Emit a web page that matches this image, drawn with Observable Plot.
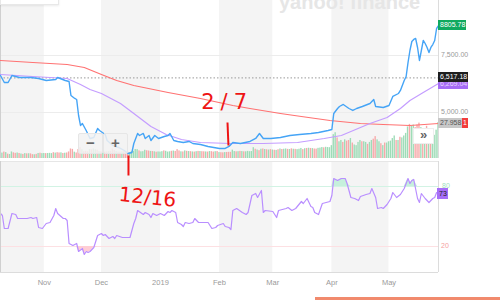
<!DOCTYPE html>
<html><head><meta charset="utf-8">
<script src="https://cdn.jsdelivr.net/npm/d3@7"></script>
<script src="https://cdn.jsdelivr.net/npm/@observablehq/plot@0.6"></script>
<style>
body{margin:0;background:#fff;font-family:"Liberation Sans",Arial,sans-serif;}
#wrap{position:relative;width:500px;height:300px;overflow:hidden;background:#fff;}
.layer{position:absolute;left:0;}
.tag{position:absolute;font-size:7px;line-height:10px;height:10px;white-space:nowrap;padding:0 2px;box-sizing:border-box;}
.btn{position:absolute;box-sizing:border-box;text-align:center;color:#666;font-weight:bold;}
</style></head><body><div id="wrap"></div>
<script>
// ---------- DATA (day = days since 2018-10-09) ----------
const startDate = "2018-10-09";
const endDay = 230;                    // 2019-05-27
const bandStart = ["2018-10-09","2018-12-01","2019-02-01","2019-04-01"];
const bandEnd   = ["2018-11-01","2019-01-01","2019-03-01","2019-05-01"];
const tickDates = ["2018-11-01","2018-12-01","2019-01-01","2019-02-01","2019-03-01","2019-04-01","2019-05-01"];
const tickLabels = ["Nov","Dec","2019","Feb","Mar","Apr","May"];
const priceTicks = [5000, 7500];
const priceTickLabels = ["5,000.00", "7,500.00"];
const lastClose = 6517.18;
const lastPrice = 8805.78;
const lastSma50 = 6269.04;
const lastVolume = "27.958";
const rsiLevels = [20, 80];
const lastRsi = 73;

// price [day, close]
const price = [[0,6623],[2,6316],[4,6316],[6,6623],[10,6535],[16,6535],[20,6491],[24,6404],[29,6447],[30,6535],
[34,6404],[36,6360],[37,5746],[39,5614],[40,5570],[41,4868],[42,4430],[43,4517],[45,4210],[47,3860],
[49,3904],[51,4298],[52,4210],[55,4035],[56,3772],[59,3553],[62,3465],[65,3333],[67,3202],[69,3245],
[70,3640],[72,4079],[73,3991],[75,4079],[76,3860],[78,3991],[79,3772],[81,3991],[83,3860],[86,3947],
[88,3991],[89,4079],[91,3772],[93,3728],[96,3684],[99,3728],[101,3640],[105,3597],[109,3509],[112,3465],
[115,3421],[118,3421],[120,3509],[122,3684],[126,3640],[131,3728],[134,3860],[136,4079],[138,3860],[142,3860],
[147,3904],[152,3991],[157,4035],[163,4079],[167,4123],[172,4210],[174,4254],[175,4956],[177,5175],[178,5263],
[180,5351],[183,5175],[185,5088],[187,5175],[190,5263],[194,5395],[196,5570],[197,5263],[201,5219],[204,5307],
[206,5702],[209,5833],[210,5965],[211,6184],[212,6404],[213,6579],[214,7193],[215,7719],[216,8114],[217,8202],
[218,8246],[219,7851],[220,7281],[221,7719],[222,8158],[223,8026],[224,7851],[225,7632],[226,7851],[227,7982],
[228,8158],[229,8684],[230,8805.78]];

// 50-day moving average [day, value]
const sma50 = [[0,6667],[17,6579],[35,6491],[42,6228],[47,6009],[53,5833],[58,5614],[63,5395],[70,4956],[79,4386],
[87,4035],[95,3816],[105,3684],[121,3640],[138,3640],[156,3684],[170,3860],[179,3991],[189,4342],[194,4518],
[203,4781],[210,5175],[215,5526],[222,5877],[230,6269.04]];

// 200-day moving average [day, value]
const sma200 = [[0,7281],[17,7193],[35,7105],[44,6974],[53,6667],[61,6404],[70,6184],[88,5877],[105,5614],[122,5307],
[131,5175],[147,4956],[158,4825],[173,4649],[189,4518],[201,4474],[215,4430],[230,4518]];

// daily volume in billions (negative = down day)
const volOct = [-3.8,4.2,-5.0,4.6,-3.4,3.1,5.1,-4.4,-4.0,4.3,-3.9,3.5,-3.2,3.8,-3.6,3.7,-3.6,-3.0,2.9,-3.2,3.9,-4.1,3.8];
const volNov = [3.9,-3.8,3.9,4.0,3.8,-4.5,4.2,-4.5,-4.3,4.4,-3.9,4.1,-4.3,-5.1,-7.4,-7.1,4.9,-4.3,-7.0,-8.4,6.9,-5.3,-5.6,-5.2,7.0,-6.7,7.4,6.8,-6.5,5.3];
const volDec = [-5.2,5.0,-5.0,-5.1,5.3,-5.6,-7.3,-6.2,5.4,-5.0,-4.9,5.1,-5.3,-4.9,-4.8,4.5,5.3,5.6,7.0,6.9,-5.9,5.2,5.3,6.4,-6.0,-5.8,5.5,-5.4,5.2,-4.9,5.1];
const volJan = [5.0,5.3,-5.9,5.6,5.0,5.2,-5.6,5.8,-5.5,-6.9,-5.9,5.2,-5.1,5.9,-5.6,5.4,-5.3,5.1,-5.0,5.3,-5.5,5.4,-5.3,-5.2,5.1,-5.0,5.4,-5.3,-5.0,5.3,-5.4];
const volFeb = [4.6,-4.5,-4.4,4.6,-4.7,-4.8,-4.8,6.5,5.4,-5.2,5.3,-5.5,5.4,-5.2,5.2,5.5,5.3,5.4,8.4,-7.2,6.6,-6.1,7.2,-7.4,7.0,-6.8,6.6,-6.9];
const volMar = [6.6,-6.4,6.3,-6.8,7.4,-7.0,7.2,7.4,-7.1,7.0,-7.5,7.2,-7.1,6.9,7.2,7.8,-6.9,7.6,-7.8,8.0,-7.8,7.7,-7.4,-7.3,7.9,8.1,8.5,-8.3,8.7,8.5,8.4];
const volApr = [10.0,18.5,20.0,-16.0,13.0,14.0,-12.5,14.5,-13.5,-14.0,15.5,-12.0,10.5,10.0,12.5,14.0,-13.0,13.0,12.5,-11.0,12.5,14.0,-15.0,-17.0,14.5,13.0,-11.5,10.0,-12.0,12.0];
const volMay = [13.0,13.5,15.5,17.5,-14.0,14.0,-16.5,16.0,17.5,19.5,24.5,-26.5,25.0,26.0,-24.0,-26.0,-27.5,24.0,-18.0,22.0,-25.0,23.0,-21.0,20.0,18.0,22.0,27.958];

// RSI [day, value]
const rsi = [[0,53],[1,51],[2,38],[4,38],[6,53],[8,52],[9,48],[14,48],[16,49],[17,48],
[19,49],[20,39],[22,38],[24,43],[26,44],[28,51],[29,58],[30,53],[33,48],[34,48],
[35,46],[36,23],[38,21],[40,23],[41,15],[43,18],[44,12],[45,15],[46,14],[47,15],
[49,19],[51,31],[53,33],[54,31],[55,32],[57,28],[59,30],[60,28],[61,31],[64,29],
[67,29],[68,29],[70,43],[71,48],[72,56],[75,52],[76,54],[78,52],[79,49],[80,53],
[82,51],[84,53],[86,51],[88,55],[89,54],[90,56],[92,54],[93,44],[95,42],[96,40],
[97,44],[99,43],[101,44],[102,48],[104,44],[107,44],[109,44],[111,38],[113,39],[114,41],
[117,43],[118,40],[120,39],[121,37],[122,56],[124,58],[127,54],[129,52],[130,54],[132,71],
[134,73],[135,69],[137,76],[138,54],[139,56],[143,55],[145,49],[146,56],[150,58],[151,59],
[153,56],[155,58],[158,65],[159,63],[161,68],[163,60],[164,59],[165,54],[167,52],[169,63],
[171,64],[173,65],[174,71],[175,88],[177,86],[179,88],[180,88],[181,88],[182,83],[184,69],
[186,68],[188,66],[189,70],[192,72],[194,73],[195,78],[197,69],[198,58],[200,59],[201,58],
[203,62],[205,68],[206,74],[208,69],[210,72],[212,78],[214,88],[215,83],[216,86],[217,87],
[219,68],[220,64],[221,73],[223,68],[225,64],[227,68],[228,69],[229,74],[230,73]];

// ---------- BUILD ----------
const parse = d3.utcParse("%Y-%m-%d");
const t0 = parse(startDate);
const at = d => new Date(+t0 + d * 864e5);
const xDomain = [at(0), at(endDay)];
const bands = bandStart.map((s, i) => ({a: parse(s), b: parse(bandEnd[i])}));
const ticks = tickDates.map((s, i) => ({date: parse(s), label: tickLabels[i]}));
const toObj = arr => arr.map(([d, v]) => ({date: at(d), v}));
const priceData = toObj(price), sma50Data = toObj(sma50), sma200Data = toObj(sma200), rsiData = toObj(rsi);
const vol = [...volOct, ...volNov, ...volDec, ...volJan, ...volFeb, ...volMar, ...volApr, ...volMay];
const volData = vol.map((v, i) => ({x1: at(i - 0.36), x2: at(i + 0.36), v: Math.abs(v), up: v >= 0}));

const W = 500, mainH = 158, mR = 62;
const FONT = "Liberation Sans, Arial, sans-serif";
const RED = "#ee1414";
const wrap = document.getElementById("wrap");
function place(el, top) { el.classList.add("layer"); el.style.top = top + "px"; wrap.appendChild(el); return el; }

// layer 1: bands + volume
const volMax = 27.958 * mainH / 36;
const p1 = Plot.plot({
  width: W, height: mainH, marginLeft: 0, marginRight: mR, marginTop: 0, marginBottom: 0,
  x: {type: "utc", domain: xDomain, axis: null},
  y: {domain: [0, volMax], axis: null},
  style: {background: "#fff"},
  marks: [
    Plot.rect(bands, {x1: "a", x2: "b", y1: 0, y2: volMax, fill: "#f4f4f4"}),
    Plot.rect(volData.filter(d => d.up), {x1: "x1", x2: "x2", y1: 0, y2: "v", fill: "#9edcb7"}),
    Plot.rect(volData.filter(d => !d.up), {x1: "x1", x2: "x2", y1: 0, y2: "v", fill: "#f6a9a9"})
  ]
});
place(p1, 0);

// layer 2: price lines
const yDom = [2982, 9912];
const p2 = Plot.plot({
  width: W, height: mainH, marginLeft: 0, marginRight: mR, marginTop: 0, marginBottom: 0,
  x: {type: "utc", domain: xDomain, axis: null},
  y: {domain: yDom, axis: null},
  style: {background: "transparent", overflow: "visible", fontFamily: "DejaVu Sans, sans-serif"},
  marks: [
    Plot.ruleY(priceTicks, {stroke: "#ececec"}),
    Plot.ruleY([lastClose], {stroke: "#9a9a9a", strokeDasharray: "1.5,2"}),
    Plot.ruleX([at(0)], {stroke: "#d0d0d0"}),
    Plot.ruleX([at(endDay)], {stroke: "#dcdcdc"}),
    Plot.line(sma200Data, {x: "date", y: "v", stroke: "#ff7272", strokeWidth: 1.2}),
    Plot.line(sma50Data, {x: "date", y: "v", stroke: "#c49dff", strokeWidth: 1.2}),
    Plot.line(priceData, {x: "date", y: "v", stroke: "#45a4f6", strokeWidth: 1.4}),
    Plot.text(["2/7"], {x: () => at(119), y: () => 5439, text: d => d, fill: RED, fontSize: 21, lineAnchor: "middle"}),
    Plot.link([0], {x1: () => at(119.2), y1: () => 4561, x2: () => at(119.7), y2: () => 3553, stroke: RED, strokeWidth: 2})
  ]
});
place(p2, 0);
d3.select(p2).selectAll("text").attr("letter-spacing", 6);

// layer 3: RSI panel
const p3 = Plot.plot({
  width: W, height: 139, marginLeft: 0, marginRight: mR, marginTop: 0, marginBottom: 28,
  x: {type: "utc", domain: xDomain, axis: null},
  y: {domain: [-6, 105], axis: null},
  style: {background: "transparent", overflow: "visible", fontFamily: FONT},
  marks: [
    Plot.rect(bands, {x1: "a", x2: "b", y1: -6, y2: 105, fill: "#f4f4f4"}),
    Plot.ruleY([rsiLevels[1]], {stroke: "#d2f3e4"}),
    Plot.ruleY([rsiLevels[0]], {stroke: "#fde0e3"}),
    Plot.areaY(rsiData, {x: "date", y1: rsiLevels[1], y2: d => Math.max(rsiLevels[1], d.v), fill: "#c6f0dc"}),
    Plot.areaY(rsiData, {x: "date", y1: rsiLevels[0], y2: d => Math.min(rsiLevels[0], d.v), fill: "#ffcdd5"}),
    Plot.line(rsiData, {x: "date", y: "v", stroke: "#b98eff", strokeWidth: 1.2}),
    Plot.ruleY([-6], {stroke: "#dcdcdc"}),
    Plot.ruleY([105], {stroke: "#e6e6e6"}),
    Plot.ruleX([at(0)], {stroke: "#d0d0d0"}),
    Plot.ruleX([at(endDay)], {stroke: "#dcdcdc"}),
    Plot.text(ticks, {x: "date", text: "label", frameAnchor: "bottom", dy: 10, fill: "#9a9a9a", fontSize: 7.5, lineAnchor: "middle"}),
    Plot.text(["12/16"], {x: () => at(77.2), y: () => 69, text: d => d, fill: RED, fontSize: 20, rotate: 6, lineAnchor: "middle", fontFamily: "DejaVu Sans, sans-serif"}),
    Plot.link([0], {x1: () => at(67.2), y1: () => 111, x2: () => at(67.2), y2: () => 91, stroke: RED, strokeWidth: 2})
  ]
});
place(p3, 161);

// ---------- right-side value tags ----------
const ys = p2.scale("y"), rs = p3.scale("y");
function tag(text, cy, left, w, bg, color, extra) {
  const el = document.createElement("div");
  el.className = "tag";
  el.textContent = text;
  Object.assign(el.style, {left: left + "px", top: (cy - 5) + "px", background: bg, color: color});
  if (w) el.style.width = w + "px";
  Object.assign(el.style, extra || {});
  wrap.appendChild(el);
  return el;
}
priceTicks.forEach((v, i) => tag(priceTickLabels[i], ys.apply(v), 439, 0, "transparent", "#999"));
tag(d3.format(".2f")(lastPrice), ys.apply(lastPrice), 438, 28, "#10a95f", "#fff");
tag(d3.format(",.2f")(lastSma50), ys.apply(lastSma50) + 1, 438, 30, "#a56cf6", "#e6d6ff");
tag(d3.format(",.2f")(lastClose), ys.apply(lastClose), 438, 30, "#1e1e1e", "#fff");
tag(lastVolume, ys.apply(4518), 438, 24, "#c8c8c8", "#555");
tag("1", ys.apply(4518), 462, 6, "#f23c3c", "#fff", {padding: "0 1px"});
tag(String(rsiLevels[1]), 161 + rs.apply(rsiLevels[1]), 440, 0, "transparent", "#9edfc0");
tag(String(rsiLevels[0]), 161 + rs.apply(rsiLevels[0]), 439, 0, "transparent", "#f6a0a0");
tag(String(lastRsi), 161 + rs.apply(lastRsi), 437, 11, "#a66ef8", "#222", {height: "11px", lineHeight: "11px"});

// ---------- UI chrome ----------
function div(style, text) {
  const el = document.createElement("div");
  el.style.position = "absolute";
  Object.assign(el.style, style);
  if (text) el.textContent = text;
  wrap.appendChild(el);
  return el;
}
div({left: "279px", top: "-9px", fontSize: "20px", fontWeight: "bold", color: "#e6e6e6", fontFamily: FONT, whiteSpace: "nowrap"}, "yahoo! finance");
div({left: "0px", top: "-10px", width: "57px", height: "13px", background: "#fff", border: "1px solid #e8e8e8", boxShadow: "0 1px 2px rgba(0,0,0,0.08)"});
const b1 = div({left: "78px", top: "133px", width: "23px", height: "19px", background: "rgba(242,242,242,0.85)", border: "1px solid #e6e6e6", borderRadius: "2px", fontSize: "15px", lineHeight: "17px", color: "#666", textAlign: "center", fontWeight: "bold"}, "−");
const b2 = div({left: "103px", top: "133px", width: "23px", height: "19px", background: "rgba(242,242,242,0.85)", border: "1px solid #e6e6e6", borderRadius: "2px", fontSize: "15px", lineHeight: "17px", color: "#666", textAlign: "center", fontWeight: "bold"}, "+");
div({left: "413px", top: "128px", width: "19px", height: "14px", background: "#fff", border: "1px solid #eee", fontSize: "13px", lineHeight: "12px", color: "#666", textAlign: "center", fontWeight: "bold"}, "»");
div({left: "315px", top: "297px", width: "185px", height: "4px", background: "#f18a6d"});
</script></body></html>
